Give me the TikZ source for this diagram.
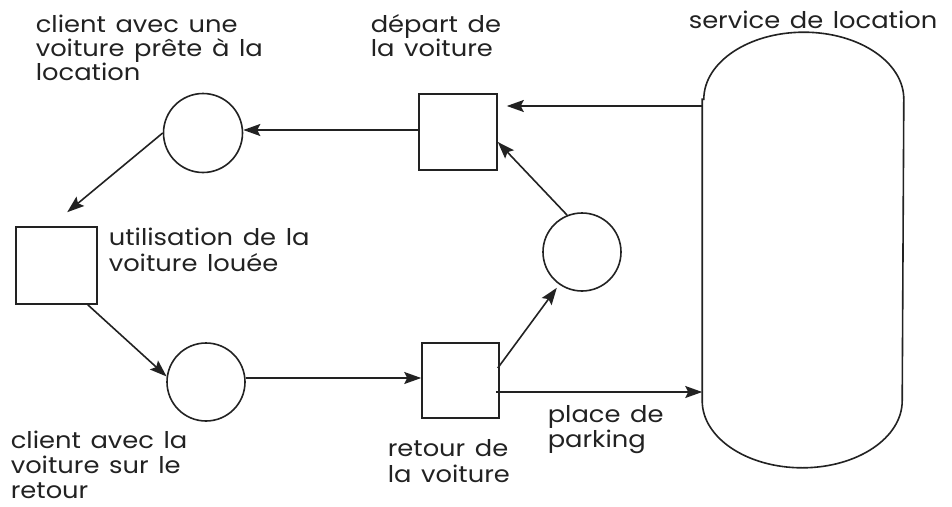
\documentclass[tikz,border=0pt]{standalone}
\usepackage{fontspec}
\setmainfont{Poppins}[FakeStretch=1.12,WordSpace=1.4]
\usetikzlibrary{arrows.meta,calc}
\definecolor{ink}{HTML}{222222}
\begin{document}
\begin{tikzpicture}[x=1pt,y=-1pt,line width=1.6pt,color=ink,
  place/.style={circle,draw,minimum size=79pt,inner sep=0pt},
  trans/.style={rectangle,draw,minimum width=78pt,minimum height=76pt,inner sep=0pt},
  arr/.style={-{Stealth[length=17pt,width=12pt,inset=3pt]}},
  lbl/.style={anchor=base west,inner sep=0pt,align=left,font=\fontsize{23}{26}\selectfont}]
\useasboundingbox[fill=white] (0,0) rectangle (952,506);
% nodes
\node[trans] (dep) at (458,132) {};
\node[trans,minimum width=81pt,minimum height=77pt] (util) at (56.5,265.5) {};
\node[trans,minimum width=77pt,minimum height=75pt] (ret) at (460.5,380.5) {};
\node[place] (c1) at (203,133) {};
\node[place,minimum size=78pt] (c2) at (206,382) {};
\node[place,minimum size=78pt] (c3) at (582,252) {};
\node[minimum width=200pt,minimum height=434pt,inner sep=0pt] (svc) at (803,250) {};
\draw ([yshift=-67pt]svc.north west) -- ([yshift=67pt]svc.south west)
  arc[start angle=180,end angle=360,x radius=100pt,y radius=67pt]
  -- ([yshift=-67pt]svc.north east)
  arc[start angle=0,end angle=180,x radius=100pt,y radius=67pt] -- cycle;
% arrows
\draw[arr] (svc.west |- 0,106) -- ($(dep.east |- 0,106)+(9,0)$);
\draw[arr] (dep.west |- 0,130) -- (c1.east |- 0,130);
\draw[arr] (c1.west) -- ($(util.north west)+(52,-14)$);
\draw[arr] ($(util.south east)+(-10,0)$) -- (c2.172);
\draw[arr] (c2.east |- 0,378) -- (ret.west |- 0,378);
\draw[arr,shorten >=4pt] ($(ret.east)+(-2,-12.5)$) -- (c3.235);
\draw[arr] (c3.112) -- ($(dep.east)+(0,10)$);
\draw[arr] ($(ret.east)+(-4,11.5)$) -- (svc.west |- 0,392);
% labels (anchored at the baseline of the last line)
\node[lbl,font=\fontsize{23}{24}\selectfont] (t1) at (35,80) {client avec une\\voiture prête à la\\location};
\node[lbl,font=\fontsize{23}{24}\selectfont] (t2) at (370,56) {départ de\\la voiture};
\node[lbl] (t3) at (688,28) {service de location};
\node[lbl] (t4) at (108,271) {utilisation de la\\voiture louée};
\node[lbl,font=\fontsize{23}{25}\selectfont] (t5) at (10,498) {client avec la\\voiture sur le\\retour};
\node[lbl] (t6) at (387,482) {retour de\\la voiture};
\node[lbl,font=\fontsize{23}{25}\selectfont] (t7) at (547,447) {place de\\parking};
\end{tikzpicture}
\end{document}
